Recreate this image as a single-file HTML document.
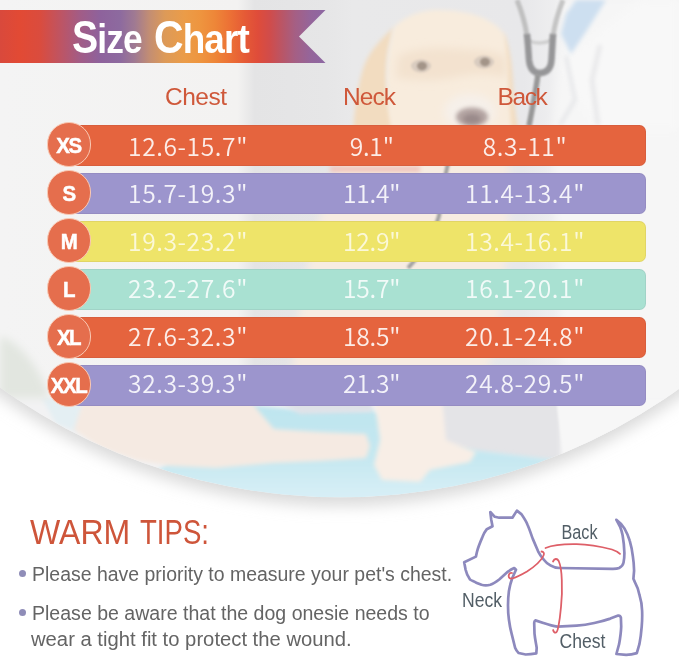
<!DOCTYPE html>
<html lang="en">
<head>
<meta charset="utf-8">
<title>Size Chart</title>
<style>
html,body{margin:0;padding:0;background:#fff;}
body{width:679px;height:658px;overflow:hidden;position:relative;font-family:"Liberation Sans",sans-serif;}
#stage{position:absolute;left:0;top:0;width:679px;height:658px;overflow:hidden;background:#fff;}
#bg{position:absolute;left:0;top:0;}
.abs{position:absolute;white-space:nowrap;line-height:1;}
/* banner */
#banner{position:absolute;left:0;top:10px;width:326px;height:53px;}
.tw{top:14.8px;font-size:41px;font-weight:bold;color:#fff;letter-spacing:-1px;transform-origin:0 0;}
.tw::first-letter{font-size:45.5px;}
/* headers */
.hd{color:#cf583a;font-size:24.5px;top:85.4px;transform-origin:0 0;}
/* rows */
.bar{position:absolute;left:69px;width:577.2px;height:40.8px;border-radius:6.5px;box-shadow:inset 0 0 0 1px rgba(60,30,60,0.07);}
.c-o{background:#e5643e;}
.c-p{background:#9c95cd;}
.c-y{background:#eee469;}
.c-m{background:#a9e1d2;}
.dot{position:absolute;left:47px;width:42.4px;height:42.4px;border-radius:50%;background:#e56e4d;border:1.4px solid #f9c9b4;box-sizing:content-box;}
.lab{color:#fff;font-weight:bold;font-size:22px;width:45px;text-align:center;left:45.6px;letter-spacing:-1.6px;transform:scaleX(0.93);-webkit-text-stroke:0.5px #fff;}
.num{color:rgba(255,255,255,0.88);font-family:"Noto Sans CJK SC","Liberation Sans",sans-serif;font-weight:350;font-size:24.6px;text-align:center;width:200px;letter-spacing:-0.2px;}
.n1{left:88px;letter-spacing:0.6px;}
.n2{left:271.7px;}
.n3{left:425px;letter-spacing:0.6px;}
/* tips */
.warm{top:513.8px;font-size:35.3px;color:#ce553a;transform-origin:0 0;}
.tip{color:#646464;font-size:20px;left:32px;transform-origin:0 0;}
.bul{position:absolute;width:7px;height:7px;border-radius:50%;background:#8f8db8;left:19px;}
.dl{fill:#525e66;font-family:"Liberation Sans",sans-serif;font-size:19.5px;}
</style>
</head>
<body>
<div id="stage">
<!--BG-->
<svg id="bg" width="679" height="658" viewBox="0 0 679 658">
<defs>
<clipPath id="cc"><circle cx="340.5" cy="-85.5" r="582.8"/></clipPath>
<filter id="b1" filterUnits="userSpaceOnUse" x="-40" y="-40" width="760" height="740"><feGaussianBlur stdDeviation="1"/></filter>
<filter id="b2" filterUnits="userSpaceOnUse" x="-40" y="-40" width="760" height="740"><feGaussianBlur stdDeviation="2"/></filter>
<filter id="b4" filterUnits="userSpaceOnUse" x="-40" y="-40" width="760" height="740"><feGaussianBlur stdDeviation="4"/></filter>
<filter id="b8" filterUnits="userSpaceOnUse" x="-40" y="-40" width="760" height="740"><feGaussianBlur stdDeviation="8"/></filter>
<filter id="sh" filterUnits="userSpaceOnUse" x="-40" y="-40" width="760" height="740"><feGaussianBlur stdDeviation="8"/></filter>
<linearGradient id="wall" x1="0" y1="0" x2="679" y2="0" gradientUnits="userSpaceOnUse">
<stop offset="0" stop-color="#f4f4f4"/><stop offset="0.35" stop-color="#f3f2f1"/><stop offset="0.375" stop-color="#e4e4e5"/><stop offset="0.48" stop-color="#e6e6e7"/><stop offset="0.52" stop-color="#e9e9ea"/><stop offset="0.77" stop-color="#e8e8ea"/><stop offset="0.84" stop-color="#f1f1f2"/><stop offset="1" stop-color="#f6f6f6"/>
</linearGradient>
<linearGradient id="mat" x1="0" y1="405" x2="0" y2="497" gradientUnits="userSpaceOnUse"><stop offset="0" stop-color="#bee5ef"/><stop offset="0.6" stop-color="#c6e8f1"/><stop offset="1" stop-color="#d8eff6"/></linearGradient>
</defs>
<rect width="679" height="658" fill="#fff"/>
<circle cx="340.5" cy="-77.5" r="582.8" fill="#d8d8d8" filter="url(#sh)"/>
<g clip-path="url(#cc)">
<rect width="679" height="520" fill="url(#wall)"/>
<!-- vet coat -->
<path d="M562 0 L679 0 L679 420 L566 470 L560 300 L552 140 L556 80 Z" fill="#f6f6f6" filter="url(#b4)"/>
<path d="M562 60 L600 30 L640 0 L679 0 L679 130 L600 130 L575 100 Z" fill="#f8f8f8" filter="url(#b4)"/>
<path d="M566 56 L575 100 L560 125" fill="none" stroke="#e2e3e6" stroke-width="3" filter="url(#b2)"/>
<path d="M600 45 L592 80 L598 125" fill="none" stroke="#e6e6e8" stroke-width="4" filter="url(#b2)"/>
<path d="M576 0 L606 0 L587 30 L571 54 L561 34 L566 14 Z" fill="#cddff0" filter="url(#b2)"/>
<!-- dog body -->
<path d="M372 110 C330 160 300 260 290 400 L480 400 C510 300 512 200 506 110 Z" fill="#f7ece2" filter="url(#b4)"/>
<path d="M330 166 L420 166 L420 172 L330 172 Z" fill="#f0c4bc" filter="url(#b2)"/>
<!-- dog head -->
<path d="M394 27 C382 38 370 50 364 66 C358 84 355 104 353 132 L396 132 C388 110 384 80 388 52 Z" fill="#f2dcc0" filter="url(#b2)"/>
<path d="M503 32 C509 44 512 64 513 84 C514 104 516 118 519 132 L506 132 C505 104 505 76 501 50 Z" fill="#f2dcc0" filter="url(#b2)"/>
<path d="M394 27 C410 12 428 10 438 10 C456 10 472 13 483 18 C494 23 500 28 504 34 C508 50 508 90 512 132 L392 132 C386 100 384 60 394 27 Z" fill="#f8ecdd" filter="url(#b2)"/>
<path d="M398 56 C420 46 450 48 470 50 C486 50 500 52 506 58 L506 78 C490 72 470 74 452 78 C430 82 410 80 396 78 Z" fill="#f3e2cf" filter="url(#b4)"/>
<ellipse cx="421" cy="66" rx="10" ry="6.5" fill="#d9ccc0" filter="url(#b1)"/><ellipse cx="422" cy="66" rx="5" ry="4.2" fill="#a39488" filter="url(#b1)"/>
<ellipse cx="484" cy="62" rx="10" ry="6.5" fill="#d9ccc0" filter="url(#b1)"/><ellipse cx="485" cy="62" rx="5" ry="4.2" fill="#a39488" filter="url(#b1)"/>
<ellipse cx="470" cy="112" rx="26" ry="18" fill="#f6f0ea" filter="url(#b4)"/>
<ellipse cx="472" cy="117" rx="16" ry="9.5" fill="#b4a4a2" filter="url(#b2)"/>
<ellipse cx="472" cy="119" rx="9" ry="5" fill="#9a8a8a" filter="url(#b2)"/>
<!-- stethoscope -->
<path d="M527 40 C535 44 546 44 553 39" fill="none" stroke="#cfcfcf" stroke-width="3.5" filter="url(#b1)"/>
<path d="M517 0 C521 10 525 21 527 36" fill="none" stroke="#c0c0c0" stroke-width="5" filter="url(#b1)"/>
<path d="M563 0 C559 10 555 22 553 36" fill="none" stroke="#c4c4c4" stroke-width="5" filter="url(#b1)"/>
<path d="M527 34 C528 45 528.5 52 529 60 C530 70 535 73 540 73 C546 73 551 69 551.5 60 C552 52 552.5 44 553 34" fill="none" stroke="#969698" stroke-width="6.5" filter="url(#b1)"/>
<path d="M538 74 C536 90 533 105 529 126" fill="none" stroke="#979797" stroke-width="5.5" filter="url(#b1)"/>
<path d="M452 150 C448 160 444 180 439 216 C432 240 420 255 408 268" fill="none" stroke="#a0a0a0" stroke-width="4" filter="url(#b1)"/>
<!-- floor / mat -->
<path d="M0 398 L679 398 L679 520 L0 520 Z" fill="#f2f2f3"/>
<path d="M42 398 L88 398 L78 432 L56 424 Z" fill="#e4eff3" filter="url(#b2)"/>
<path d="M440 398 L560 398 L560 462 L440 450 Z" fill="#e4e4e7" filter="url(#b2)"/>
<path d="M556 398 L679 398 L679 440 L566 480 Z" fill="#f7f7f7" filter="url(#b1)"/>
<path d="M150 476 L200 440 L250 405 L300 410 L372 410 L440 446 L556 460 L500 505 L200 505 Z" fill="url(#mat)" filter="url(#b2)"/>
<path d="M272 398 L372 398 L372 412 L300 414 Z" fill="#dfe2e8" filter="url(#b2)"/>
<!-- rear leg -->
<path d="M84 398 L248 398 L262 415 L274 429 L320 432 L366 434 L370 446 L366 458 L320 461 L273 463 L216 468 L171 466 L136 460 L101 448 L74 430 Z" fill="#f5eae2" filter="url(#b2)"/>
<!-- front legs -->
<path d="M374 398 L442 398 L446 440 L476 452 L470 462 L430 470 L420 482 L382 480 L374 465 L380 440 Z" fill="#f8eee6" filter="url(#b2)"/>

<path d="M0 336 C20 342 40 368 50 398 L0 398 Z" fill="#e2e6e0" filter="url(#b4)"/>
</g>
</svg>
<!--/BG-->
<!--BANNER-->
<svg id="banner" width="326" height="53" viewBox="0 0 326 53">
<defs><linearGradient id="bg1" x1="0" y1="0" x2="326" y2="0" gradientUnits="userSpaceOnUse">
<stop offset="0.000" stop-color="#d9493c"/><stop offset="0.061" stop-color="#e24a34"/><stop offset="0.123" stop-color="#da4c3e"/><stop offset="0.184" stop-color="#bf5462"/><stop offset="0.245" stop-color="#a25c86"/><stop offset="0.307" stop-color="#8e629c"/><stop offset="0.368" stop-color="#8d6a9f"/><stop offset="0.414" stop-color="#a07a92"/><stop offset="0.460" stop-color="#c48e72"/><stop offset="0.506" stop-color="#dd9a58"/><stop offset="0.567" stop-color="#eb9c48"/><stop offset="0.613" stop-color="#ee953f"/><stop offset="0.660" stop-color="#ee8638"/><stop offset="0.706" stop-color="#ec7035"/><stop offset="0.752" stop-color="#e55a36"/><stop offset="0.791" stop-color="#df4c3a"/><stop offset="0.828" stop-color="#d04c4b"/><stop offset="0.868" stop-color="#b85668"/><stop offset="0.905" stop-color="#a55f84"/><stop offset="0.951" stop-color="#95659a"/><stop offset="1.000" stop-color="#8d68a3"/>
</linearGradient></defs>
<path d="M0 0 H325.5 L299 26.5 L325.5 53 H0 Z" fill="url(#bg1)"/>
</svg>
<div id="title"><span class="abs tw" style="left:71.5px;transform:scaleX(0.86)">Size</span> <span class="abs tw" style="left:153.5px;transform:scaleX(0.9)">Chart</span></div>
<div class="abs hd" style="left:165px;letter-spacing:-0.5px">Chest</div>
<div class="abs hd" style="left:343px;letter-spacing:-0.9px">Neck</div>
<div class="abs hd" style="left:497.5px;letter-spacing:-1.4px">Back</div>
<!--/BANNER-->
<!--TABLE-->
<div class="bar c-o" style="top:124.8px"></div>
<div class="dot" style="top:122.4px"></div>
<div class="abs lab" style="top:134.6px">XS</div>
<div class="abs num n1" style="top:132.9px">12.6-15.7"</div><div class="abs num n2" style="top:132.9px">9.1"</div><div class="abs num n3" style="top:132.9px">8.3-11"</div>
<div class="bar c-p" style="top:172.8px"></div>
<div class="dot" style="top:170.4px"></div>
<div class="abs lab" style="top:182.6px">S</div>
<div class="abs num n1" style="top:180.3px">15.7-19.3"</div><div class="abs num n2" style="top:180.3px">11.4"</div><div class="abs num n3" style="top:180.3px">11.4-13.4"</div>
<div class="bar c-y" style="top:220.8px"></div>
<div class="dot" style="top:218.4px"></div>
<div class="abs lab" style="top:230.6px">M</div>
<div class="abs num n1" style="top:227.8px;color:rgba(255,255,255,0.74)">19.3-23.2"</div><div class="abs num n2" style="top:227.8px;color:rgba(255,255,255,0.74)">12.9"</div><div class="abs num n3" style="top:227.8px;color:rgba(255,255,255,0.74)">13.4-16.1"</div>
<div class="bar c-m" style="top:268.8px"></div>
<div class="dot" style="top:266.4px"></div>
<div class="abs lab" style="top:278.6px">L</div>
<div class="abs num n1" style="top:275.2px;color:rgba(255,255,255,0.84)">23.2-27.6"</div><div class="abs num n2" style="top:275.2px;color:rgba(255,255,255,0.84)">15.7"</div><div class="abs num n3" style="top:275.2px;color:rgba(255,255,255,0.84)">16.1-20.1"</div>
<div class="bar c-o" style="top:316.8px"></div>
<div class="dot" style="top:314.4px"></div>
<div class="abs lab" style="top:326.6px">XL</div>
<div class="abs num n1" style="top:322.7px">27.6-32.3"</div><div class="abs num n2" style="top:322.7px">18.5"</div><div class="abs num n3" style="top:322.7px">20.1-24.8"</div>
<div class="bar c-p" style="top:364.8px"></div>
<div class="dot" style="top:362.4px"></div>
<div class="abs lab" style="top:374.6px">XXL</div>
<div class="abs num n1" style="top:370.1px">32.3-39.3"</div><div class="abs num n2" style="top:370.1px">21.3"</div><div class="abs num n3" style="top:370.1px">24.8-29.5"</div>
<!--/TABLE-->
<!--TIPS-->
<div id="warm"><span class="abs warm" style="left:30px;transform:scaleX(0.908)">WARM</span> <span class="abs warm" style="left:139.7px;transform:scaleX(0.781)">TIPS:</span></div>
<div class="bul" style="top:570.3px"></div>
<div class="abs tip" style="top:564.2px;left:31.7px;transform:scaleX(0.973)">Please have priority to measure your pet's chest.</div>
<div class="bul" style="top:608.8px"></div>
<div class="abs tip" style="top:602.7px;left:31.7px;transform:scaleX(0.977)">Please be aware that the dog onesie needs to</div>
<div class="abs tip" style="top:628.7px;left:31.1px;transform:scaleX(1.012)">wear a tight fit to protect the wound.</div>
<!--/TIPS-->
<!--DOG-->
<svg id="dog" class="abs" style="left:450px;top:500px" width="229" height="158" viewBox="450 500 229 158">
<path d="M490.3 512 L494.8 516.8 L499.2 517.7 L512.4 517.7 L516.9 510.6 L521.3 514.1 C524 518 526 521 527.5 524.7 C529.5 529 531 534 532.8 538.9 L538.1 551.3 C540 555 541.5 557 543.4 559.2 C545.5 562 548 564 550.4 565.4 C553 567 556 568 559.3 568 L612 568.9 C616 569 618 568.5 619.1 568 C622 566.5 623.2 565 623.5 562.7 C624.3 559 624.4 556 624.4 553 C624.2 547 623.6 541 622.6 535.3 C622 532 621 529 620 526.5 L616.4 519.8 C620 522.5 622.5 525 624.4 528.3 C626.5 532 628.5 536 629.7 540.6 C631.3 546 632.3 551 632.9 556.6 C633.6 561 634 566 634.1 570.7 L633.4 578.8 L635 582.4 C637 586 638.5 590 639.4 594.7 C641 600 642 605 642.1 610.7 C642.3 616 642.2 621 641.7 626.6 C641.2 633 640.4 639 639.4 644.2 L636.8 653.1 C633 654.3 630 654.8 626.2 654.8 L616.4 654 L619.1 644.2 C620.2 638 621 632 621.2 626.6 L620.9 617.7 C620.4 616 619.4 615.4 618.2 615.6 L610.3 618.6 C605 620.4 600 621.8 594.3 623 C588 624.5 582 625.4 576.7 625.7 L557.5 626.6 C552 626 548 624.6 543.4 623 L535.4 620.4 C534.4 621 534.2 622 534.2 623 L534.5 633.6 C535 639 536 643 536.7 647.8 L536.3 653.4 C532 654.2 529 654.5 525.7 654.5 L518.6 653 C517 651.5 516 650 515.1 647.8 L511.6 633.6 C510.3 629 509.5 624 508.9 619.5 C508.2 615 508 610 508 605.3 C508 600 508.3 596 508.9 591.2 C509.6 587 510.5 583 512.4 577.8 L516 569.8 L514.2 568 C512 569 510 570 508 571.6 L499.2 579.5 C496 582 493.5 583.8 490.3 584.8 C487 585.6 484.5 585.6 481.5 584.8 L476.2 582.7 C474 581 472 581 470 579.5 C467.5 576 466.3 573 465.6 569.8 L464.2 562.2 L475.9 556.6 L477.1 551.3 C478.5 546 480.5 541.5 482.4 537.1 C483.6 534 485 531.5 486.8 529.2 L492.5 526.2 L491.2 519.4 Z" fill="none" stroke="#8d89bd" stroke-width="2.7" stroke-linejoin="round"/>
<g fill="none" stroke="#de5f68" stroke-width="1.8" stroke-linecap="round">
<path d="M545.5 548 C554 544.5 566 544 576.7 544.2 C588 544.5 600 546.5 612 549.5 C616 550.8 618.5 552.3 620 553.9"/>
<path d="M541.5 551.5 C543.5 551.5 544.5 553 543.5 555.5 C541 561 534 567 527 571.5 C521 575 516 577.5 512 578.5 C509.5 579 508.5 577.5 508.7 575.5 C509 573.5 510.5 572.5 512 573"/>
<path d="M553 561.5 C554.5 558.5 557 558 558.7 561 C560.5 565 561.5 571 561.8 580 C562.2 590 561.8 600 561 607 C560.3 615 559.5 621 558.4 626.6 C557.7 630 556.7 632.5 555.7 632.7 C554.5 632.8 553.5 631.5 553.1 630"/>
</g>
<text class="dl" x="561.5" y="539.3" textLength="36" lengthAdjust="spacingAndGlyphs">Back</text>
<text class="dl" x="462" y="606.8" textLength="40" lengthAdjust="spacingAndGlyphs">Neck</text>
<text class="dl" x="559.5" y="648.3" textLength="46" lengthAdjust="spacingAndGlyphs">Chest</text>
</svg>
<!--/DOG-->
</div>
</body>
</html>
